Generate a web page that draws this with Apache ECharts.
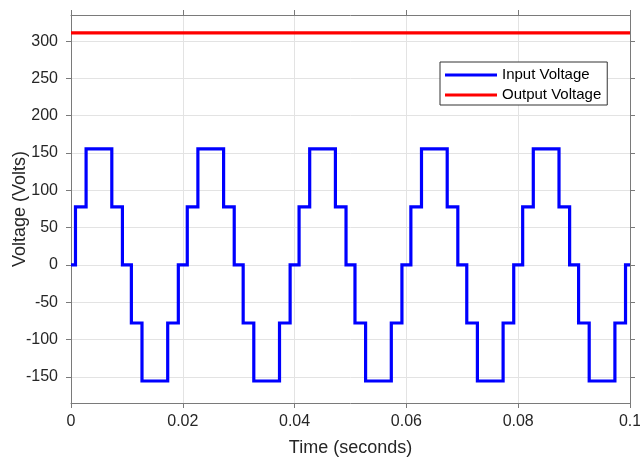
<!DOCTYPE html>
<html>
<head>
<meta charset="utf-8">
<style>
  html, body { margin: 0; padding: 0; background: #fff; }
  #chart { width: 640px; height: 462px; }
</style>
<script src="https://cdn.jsdelivr.net/npm/echarts@6/dist/echarts.min.js"></script>
</head>
<body>
<div id="chart"></div>
<script>
// Staircase inverter input: switching instants (s) and the level held from each instant
const inputTimes = [
  0,
  0.0008, 0.0027, 0.0073, 0.0092, 0.0108, 0.0127, 0.0173, 0.0192,
  0.0208, 0.0227, 0.0273, 0.0292, 0.0308, 0.0327, 0.0373, 0.0392,
  0.0408, 0.0427, 0.0473, 0.0492, 0.0508, 0.0527, 0.0573, 0.0592,
  0.0608, 0.0627, 0.0673, 0.0692, 0.0708, 0.0727, 0.0773, 0.0792,
  0.0808, 0.0827, 0.0873, 0.0892, 0.0908, 0.0927, 0.0973, 0.0992,
  0.1
];
const inputVolts = [
  0,
  77.75, 155.5, 77.75, 0, -77.75, -155.5, -77.75, 0,
  77.75, 155.5, 77.75, 0, -77.75, -155.5, -77.75, 0,
  77.75, 155.5, 77.75, 0, -77.75, -155.5, -77.75, 0,
  77.75, 155.5, 77.75, 0, -77.75, -155.5, -77.75, 0,
  77.75, 155.5, 77.75, 0, -77.75, -155.5, -77.75, 0,
  0
];

// DC output level
const outputTimes = [0, 0.1];
const outputVolts = [311, 311];

// Axis ticks
const timeTicks = [0, 0.02, 0.04, 0.06, 0.08, 0.1];
const voltTicks = [-150, -100, -50, 0, 50, 100, 150, 200, 250, 300];

const seriesNames = ['Input Voltage', 'Output Voltage'];

const FONT = "'Liberation Sans', Arial, Helvetica, sans-serif";
const AXIS_COLOR = '#7a7a7a';
const TEXT_COLOR = '#262626';
const GRID_COLOR = '#e3e3e3';

const inputData = inputTimes.map((t, i) => [t, inputVolts[i]]);
const outputData = outputTimes.map((t, i) => [t, outputVolts[i]]);

const fmtTime = v => String(Number(v.toFixed(3)));

const chart = echarts.init(document.getElementById('chart'), null, { renderer: 'canvas' });

chart.setOption({
  animation: false,
  backgroundColor: '#ffffff',
  textStyle: { fontFamily: FONT },
  grid: { left: 71, right: 10, top: 15, bottom: 59, containLabel: false, outerBoundsMode: 'none' },
  legend: {
    data: seriesNames.map(n => ({ name: n, icon: 'rect' })),
    orient: 'vertical',
    left: 440,
    top: 62,
    padding: [5, 6, 2, 5],
    itemGap: 4,
    itemWidth: 52,
    itemHeight: 3,
    backgroundColor: '#ffffff',
    borderColor: '#333333',
    borderWidth: 1,
    borderRadius: 0,
    textStyle: { fontFamily: FONT, fontSize: 15, lineHeight: 16, color: '#000000' }
  },
  xAxis: [
    {
      type: 'value',
      position: 'bottom',
      min: 0,
      max: 0.1,
      interval: 0.02,
      name: 'Time (seconds)',
      nameLocation: 'middle',
      nameGap: 36,
      nameMoveOverlap: false,
      nameTextStyle: { fontFamily: FONT, fontSize: 18, color: TEXT_COLOR },
      axisLine: { show: true, onZero: false, lineStyle: { color: AXIS_COLOR, width: 1 } },
      axisTick: { show: true, inside: false, length: 5, lineStyle: { color: AXIS_COLOR } },
      axisLabel: { fontFamily: FONT, fontSize: 16, color: TEXT_COLOR, margin: 11, formatter: fmtTime, showMinLabel: true, showMaxLabel: true },
      splitLine: { show: true, lineStyle: { color: GRID_COLOR, width: 1 } }
    },
    {
      type: 'value',
      position: 'top',
      min: 0,
      max: 0.1,
      interval: 0.02,
      axisLine: { show: true, onZero: false, lineStyle: { color: AXIS_COLOR, width: 1 } },
      axisTick: { show: true, inside: false, length: 5, lineStyle: { color: AXIS_COLOR } },
      axisLabel: { show: false },
      splitLine: { show: false }
    }
  ],
  yAxis: [
    {
      type: 'value',
      position: 'left',
      min: -185,
      max: 335,
      name: 'Voltage (Volts)',
      nameLocation: 'middle',
      nameGap: 42,
      nameMoveOverlap: false,
      nameRotate: 90,
      nameTextStyle: { fontFamily: FONT, fontSize: 18, color: TEXT_COLOR },
      axisLine: { show: true, onZero: false, lineStyle: { color: AXIS_COLOR, width: 1 } },
      axisTick: { show: true, inside: false, length: 5, customValues: voltTicks, lineStyle: { color: AXIS_COLOR } },
      axisLabel: { fontFamily: FONT, fontSize: 16, color: TEXT_COLOR, margin: 13, customValues: voltTicks },
      splitLine: { show: true, lineStyle: { color: GRID_COLOR, width: 1 } }
    },
    {
      type: 'value',
      position: 'right',
      min: -185,
      max: 335,
      axisLine: { show: true, onZero: false, lineStyle: { color: AXIS_COLOR, width: 1 } },
      axisTick: { show: true, inside: false, length: 5, customValues: voltTicks, lineStyle: { color: AXIS_COLOR } },
      axisLabel: { show: false, customValues: voltTicks },
      splitLine: { show: false }
    }
  ],
  series: [
    {
      name: seriesNames[0],
      type: 'line',
      xAxisIndex: 0,
      yAxisIndex: 0,
      step: 'end',
      data: inputData,
      symbol: 'none',
      lineStyle: { color: '#0000ff', width: 3.2, join: 'miter' },
      itemStyle: { color: '#0000ff' },
      z: 3
    },
    {
      name: seriesNames[1],
      type: 'line',
      xAxisIndex: 0,
      yAxisIndex: 0,
      data: outputData,
      symbol: 'none',
      lineStyle: { color: '#ff0000', width: 3.2 },
      itemStyle: { color: '#ff0000' },
      z: 3
    }
  ]
});
</script>
</body>
</html>
